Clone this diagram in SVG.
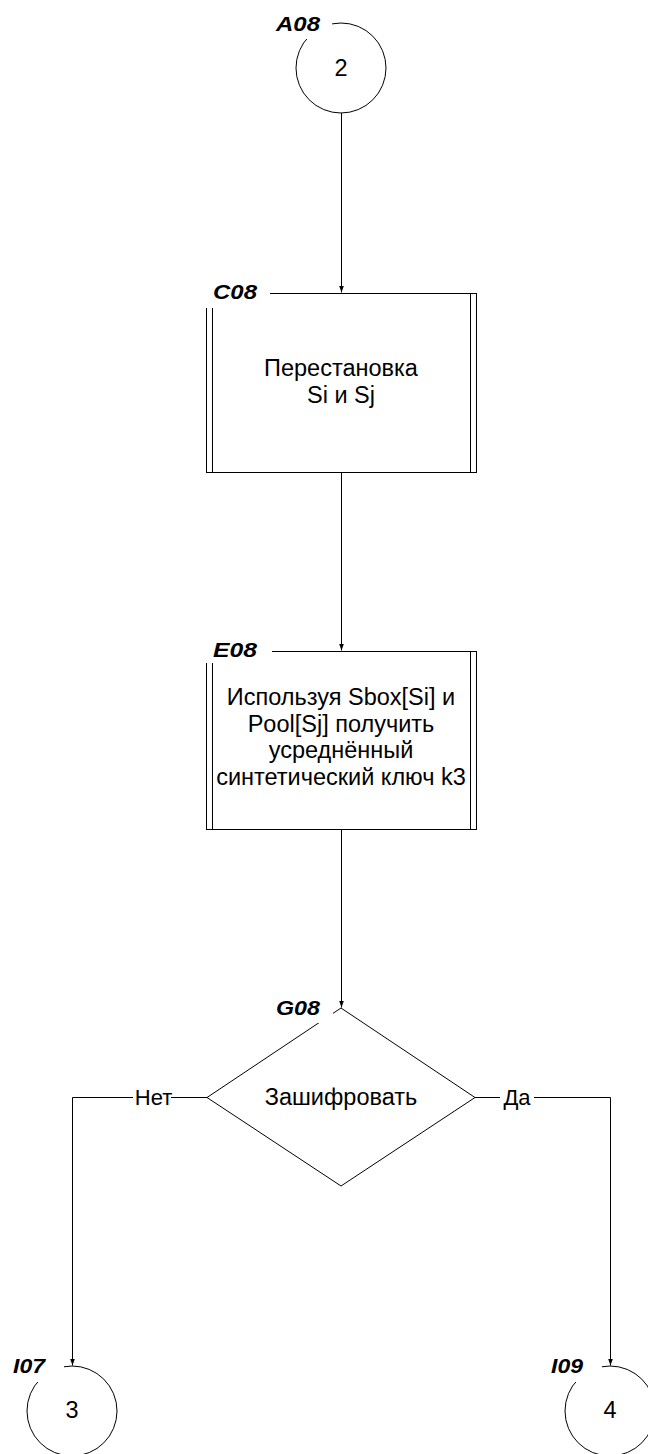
<svg xmlns="http://www.w3.org/2000/svg" width="648" height="1454" viewBox="0 0 648 1454">
<style>
.s{fill:none;stroke:#000;stroke-width:1}
.w{fill:#fff;stroke:none}
.t{font-family:"Liberation Sans",Arial,sans-serif;font-size:23.5px;fill:#000;text-anchor:middle}
.lb{font-family:"Liberation Sans",Arial,sans-serif;font-size:21px;font-weight:bold;font-style:italic;fill:#000}
.el{font-family:"Liberation Sans",Arial,sans-serif;font-size:22px;fill:#000;text-anchor:middle}
</style>
<defs>
<marker id="ah" markerUnits="userSpaceOnUse" markerWidth="8" markerHeight="8" refX="7" refY="4" orient="auto">
<path d="M0,1.5 L7,4 L0,6.5 z" fill="#000"/>
</marker>
</defs>
<rect width="648" height="1454" fill="#fff"/>
<g id="connectors">
<path class="s" d="M341.5,113 V292.5" marker-end="url(#ah)"/>
<path class="s" d="M341.5,472 V650.5" marker-end="url(#ah)"/>
<path class="s" d="M341.5,829 V1007.5" marker-end="url(#ah)"/>
<path class="s" d="M207,1097.5 H72.5 V1365.5" marker-end="url(#ah)"/>
<path class="s" d="M475,1097.5 H610.5 V1365.5" marker-end="url(#ah)"/>
<rect class="w" x="133" y="1086" width="38" height="22"/>
<text class="el" x="153.5" y="1105">Нет</text>
<rect class="w" x="500" y="1086" width="34" height="22"/>
<text class="el" x="517" y="1105">Да</text>
</g>
<g id="A08">
<circle class="s" cx="341" cy="68" r="45"/>
<rect class="w" x="270" y="8" width="62" height="31"/>
<text class="lb" x="276" y="31" textLength="44" lengthAdjust="spacingAndGlyphs">A08</text>
<text class="t" x="341" y="76">2</text>
</g>
<g id="C08">
<rect class="s" x="206.5" y="293.5" width="270" height="179"/>
<path class="s" d="M212.5,293.5 V472.5 M470.5,293.5 V472.5"/>
<rect class="w" x="199" y="281" width="71" height="27"/>
<text class="lb" x="213" y="299" textLength="44" lengthAdjust="spacingAndGlyphs">C08</text>
<text class="t" x="341" y="376">Перестановка</text>
<text class="t" x="341" y="403">Si и Sj</text>
</g>
<g id="E08">
<rect class="s" x="206.5" y="651.5" width="270" height="178"/>
<path class="s" d="M212.5,651.5 V829.5 M470.5,651.5 V829.5"/>
<rect class="w" x="199" y="638" width="73" height="25"/>
<text class="lb" x="213" y="657" textLength="44" lengthAdjust="spacingAndGlyphs">E08</text>
<text class="t" x="341" y="705">Используя Sbox[Si] и</text>
<text class="t" x="341" y="732">Pool[Sj] получить</text>
<text class="t" x="341" y="758">усреднённый</text>
<text class="t" x="341" y="785">синтетический ключ k3</text>
</g>
<g id="G08">
<path class="s" d="M341,1008 L475,1097.5 L341,1186 L207,1097.5 z"/>
<rect class="w" x="270" y="996" width="63" height="27"/>
<text class="lb" x="276" y="1015" textLength="44" lengthAdjust="spacingAndGlyphs">G08</text>
<text class="t" x="341" y="1105">Зашифровать</text>
</g>
<g id="I07">
<circle class="s" cx="72" cy="1411" r="45"/>
<rect class="w" x="6" y="1350" width="58" height="32"/>
<text class="lb" x="13" y="1373" textLength="32" lengthAdjust="spacingAndGlyphs">I07</text>
<text class="t" x="72" y="1418">3</text>
</g>
<g id="I09">
<circle class="s" cx="610" cy="1411" r="45"/>
<rect class="w" x="545" y="1350" width="57" height="32"/>
<text class="lb" x="551" y="1373" textLength="32" lengthAdjust="spacingAndGlyphs">I09</text>
<text class="t" x="610" y="1418">4</text>
</g>
</svg>
